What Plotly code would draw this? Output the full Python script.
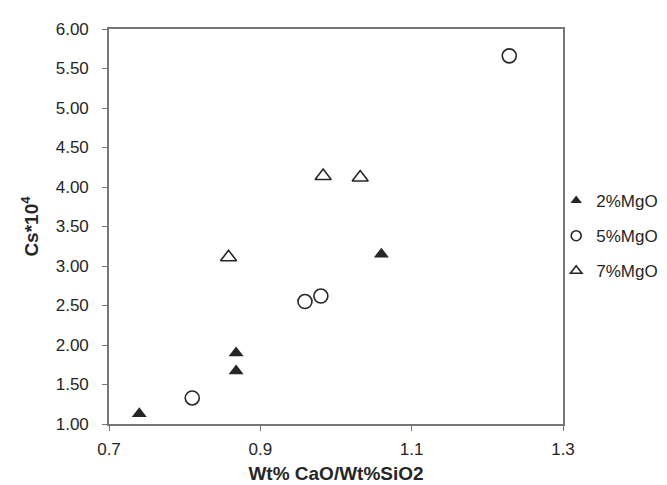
import plotly.graph_objects as go

# Data
mg2_x = [0.740, 0.868, 0.868, 1.060]
mg2_y = [1.13, 1.90, 1.67, 3.15]
mg5_x = [0.810, 0.959, 0.980, 1.229]
mg5_y = [1.33, 2.55, 2.62, 5.66]
mg7_x = [0.858, 0.983, 1.032]
mg7_y = [3.11, 4.14, 4.12]

series_names = ["2%MgO", "5%MgO", "7%MgO"]

x_ticks = [0.7, 0.9, 1.1, 1.3]
y_ticks = [1.0, 1.5, 2.0, 2.5, 3.0, 3.5, 4.0, 4.5, 5.0, 5.5, 6.0]

FONT = "Liberation Sans, Arial, sans-serif"
INK = "#262626"
AXIS = "#767676"

fig = go.Figure()

styles = [
    dict(symbol="triangle-up", color=INK, line=dict(width=0, color=INK)),
    dict(symbol="circle-open", color=INK, line=dict(width=1.6, color=INK)),
    dict(symbol="triangle-up-open", color=INK, line=dict(width=1.6, color=INK)),
]
sizes = [13, 14, 14]
data = [(mg2_x, mg2_y), (mg5_x, mg5_y), (mg7_x, mg7_y)]

for i, ((xs, ys), name) in enumerate(zip(data, series_names)):
    fig.add_trace(go.Scatter(
        x=xs, y=ys, mode="markers", name=name, showlegend=False,
        marker=dict(size=sizes[i], **styles[i]),
        hoverinfo="x+y+name",
    ))
# legend-only entries with smaller symbols
for i, name in enumerate(series_names):
    fig.add_trace(go.Scatter(
        x=[None], y=[None], mode="markers", name=name, legendgroup=name,
        marker=dict(size=10, **styles[i]),
    ))

fig.update_layout(
    width=667, height=485,
    margin=dict(l=101, r=110, t=14, b=63, pad=0),
    paper_bgcolor="white", plot_bgcolor="white",
    font=dict(family=FONT, size=17, color=INK),
    showlegend=True,
    legend=dict(
        x=0.985, xanchor="left", y=0.61, yanchor="top",
        font=dict(family=FONT, size=17, color=INK),
        itemwidth=30, tracegroupgap=10, bgcolor="rgba(0,0,0,0)",
    ),
    xaxis=dict(
        range=[0.7, 1.3], tickvals=x_ticks, ticktext=[str(v) for v in x_ticks],
        showgrid=False, zeroline=False,
        showline=True, linecolor=AXIS, linewidth=1.6, mirror=True,
        ticks="outside", ticklen=5, tickcolor=AXIS, tickwidth=1.3,
        ticklabelstandoff=4,
        tickfont=dict(family=FONT, size=17, color=INK),
        title=dict(text="<b>Wt% CaO/Wt%SiO2</b>", standoff=8,
                   font=dict(family=FONT, size=19, color=INK)),
    ),
    yaxis=dict(
        range=[1.0, 6.0], tickvals=y_ticks, ticktext=[f"{v:.2f}" for v in y_ticks],
        showgrid=False, zeroline=False,
        showline=True, linecolor=AXIS, linewidth=1.6, mirror=True,
        ticks="outside", ticklen=5, tickcolor=AXIS, tickwidth=1.3,
        ticklabelstandoff=10,
        tickfont=dict(family=FONT, size=17, color=INK),
        title=dict(text="<b>Cs*10<sup>4</sup></b>", standoff=12,
                   font=dict(family=FONT, size=19, color=INK)),
    ),
)

fig.write_html("out.html")
